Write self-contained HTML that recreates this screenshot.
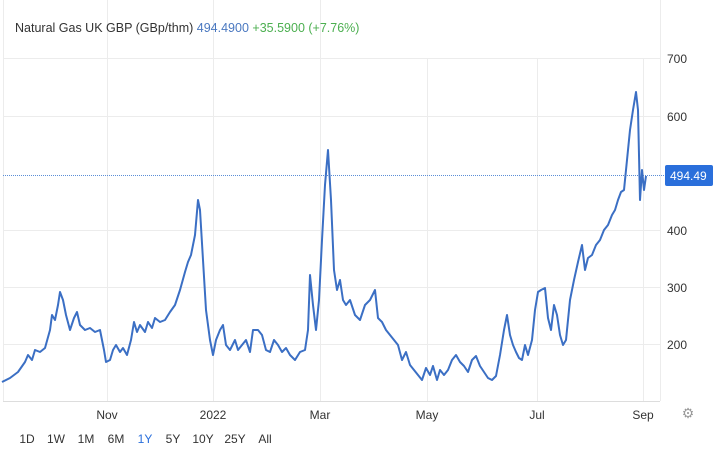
<!DOCTYPE html>
<html><head><meta charset="utf-8"><style>
body{margin:0;background:#fff;font-family:"Liberation Sans",sans-serif;}
svg{display:block}
</style></head><body>
<svg width="720" height="451" viewBox="0 0 720 451" xmlns="http://www.w3.org/2000/svg" font-family="Liberation Sans, sans-serif">
<rect width="720" height="451" fill="#fff"/>
<g stroke="#ececec" stroke-width="1">
<line x1="107.5" y1="0" x2="107.5" y2="401"/><line x1="213.5" y1="0" x2="213.5" y2="401"/><line x1="320.5" y1="0" x2="320.5" y2="401"/><line x1="427.5" y1="58" x2="427.5" y2="401"/><line x1="537.5" y1="58" x2="537.5" y2="401"/><line x1="643.5" y1="58" x2="643.5" y2="401"/>
<line x1="3" y1="58.5" x2="660" y2="58.5"/><line x1="3" y1="116.5" x2="660" y2="116.5"/><line x1="3" y1="230.5" x2="660" y2="230.5"/><line x1="3" y1="287.5" x2="660" y2="287.5"/><line x1="3" y1="344.5" x2="660" y2="344.5"/>
<line x1="660.5" y1="0" x2="660.5" y2="401"/>
<line x1="3.5" y1="0" x2="3.5" y2="401"/>
</g>
<line x1="3" y1="401.5" x2="660" y2="401.5" stroke="#ddd"/>
<line x1="3" y1="175.5" x2="665" y2="175.5" stroke="#5b8ed6" stroke-dasharray="1,1"/>
<text x="15" y="32" font-size="12.5" fill="#333">Natural Gas UK GBP (GBp/thm) <tspan fill="#4a78c0">494.4900</tspan> <tspan fill="#4caf50"> +35.5900 (+7.76%)</tspan></text>
<g font-size="12" fill="#333">
<text x="667" y="63">700</text><text x="667" y="121">600</text><text x="667" y="235">400</text><text x="667" y="292">300</text><text x="667" y="349">200</text>
</g>
<rect x="665" y="165" width="48" height="21" rx="2" fill="#2a6fdb"/>
<text x="670" y="180" font-size="12" fill="#fff">494.49</text>
<g font-size="12" fill="#333" text-anchor="middle">
<text x="107" y="419">Nov</text><text x="213" y="419">2022</text><text x="320" y="419">Mar</text><text x="427" y="419">May</text><text x="537" y="419">Jul</text><text x="643" y="419">Sep</text>
</g>
<text x="688" y="418" font-size="14" fill="#999" text-anchor="middle">⚙</text>
<g font-size="12" fill="#333" text-anchor="middle">
<text x="27" y="443">1D</text><text x="56" y="443">1W</text><text x="86" y="443">1M</text><text x="116" y="443">6M</text><text x="145" y="443" fill="#2a6fdb">1Y</text><text x="173" y="443">5Y</text><text x="203" y="443">10Y</text><text x="235" y="443">25Y</text><text x="265" y="443">All</text>
</g>
<polyline fill="none" stroke="#3b6fc4" stroke-width="2" stroke-linejoin="round" points="2,382 10,378 18,372 25,362 28,355 32,360 35,350 40,352 45,348 50,330 52,315 55,320 58,305 60,292 63,300 66,315 70,330 74,318 77,312 80,325 85,330 90,328 95,332 100,330 104,350 106,362 110,360 113,350 116,345 120,352 123,348 127,355 131,340 134,322 137,332 140,325 145,332 148,322 152,328 155,318 160,322 165,320 170,312 175,305 180,290 185,272 188,262 191,255 195,235 198,200 200,210 203,260 206,310 210,340 213,355 216,340 220,330 223,325 226,345 230,350 235,340 238,350 242,345 246,340 250,352 253,330 258,330 262,335 266,350 270,352 274,340 278,345 282,352 286,348 290,355 295,360 300,352 305,350 308,330 310,275 313,305 316,330 319,300 322,240 325,185 328,150 331,200 334,270 337,290 340,280 343,300 346,305 350,300 355,315 360,320 365,305 370,300 375,290 378,318 382,322 386,330 390,335 394,340 398,345 402,360 406,352 410,365 414,370 418,375 422,380 426,368 430,375 433,366 437,380 440,370 444,375 448,370 452,360 456,355 460,362 464,366 468,372 472,360 476,356 480,366 484,372 488,378 492,380 496,376 500,355 504,330 507,315 510,335 513,345 516,352 519,358 522,360 525,345 528,355 532,340 535,310 538,292 541,290 545,288 548,318 551,330 554,305 557,315 560,335 563,345 566,340 570,300 574,280 578,262 582,245 585,270 588,258 592,255 596,245 600,240 604,230 608,225 612,215 615,210 618,200 621,192 624,190 627,160 630,130 633,110 636,92 638,110 640,200 642,170 644,190 646,176"/>
</svg>
</body></html>
